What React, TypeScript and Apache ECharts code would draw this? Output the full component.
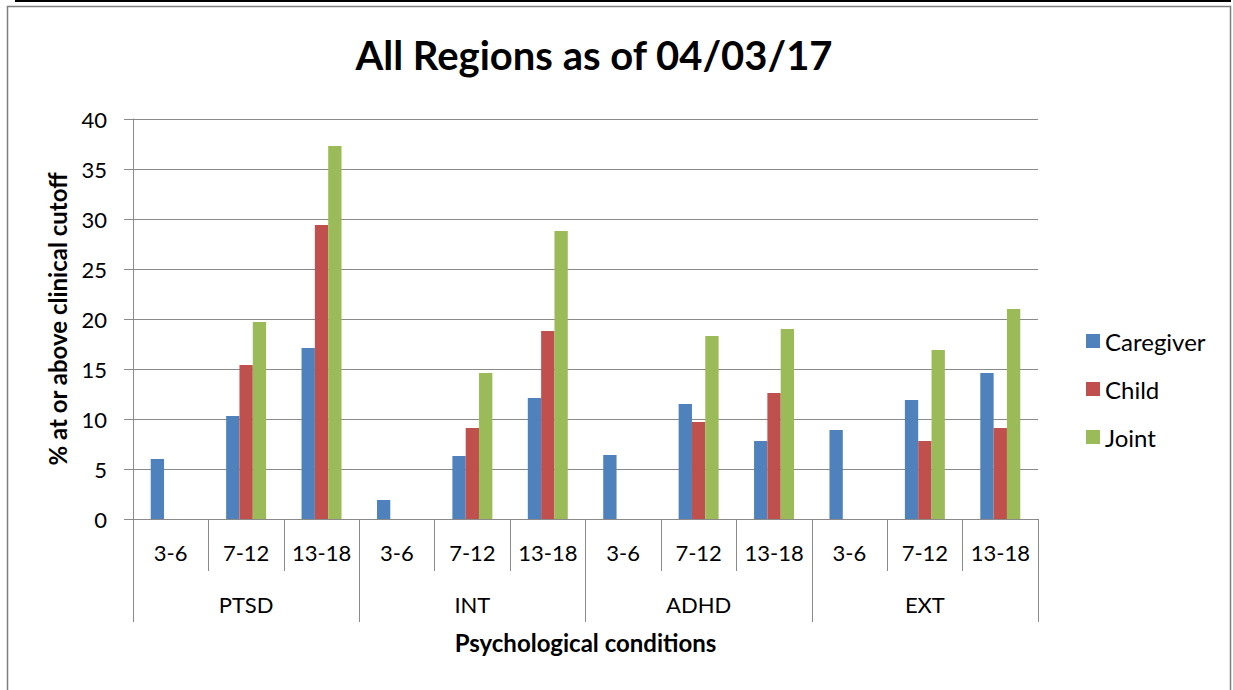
import React, { useEffect, useRef } from "react";
import * as echarts from "echarts";

const ageGroups = ["3-6", "7-12", "13-18", "3-6", "7-12", "13-18", "3-6", "7-12", "13-18", "3-6", "7-12", "13-18"];
const conditions = ["PTSD", "INT", "ADHD", "EXT"];
const seriesNames = ["Caregiver", "Child", "Joint"];
const caregiver = [6.0, 10.3, 17.1, 1.9, 6.3, 12.1, 6.4, 11.5, 7.8, 8.9, 11.9, 14.6];
const child = [null, 15.4, 29.4, null, 9.1, 18.8, null, 9.7, 12.6, null, 7.8, 9.1];
const joint = [null, 19.7, 37.3, null, 14.6, 28.8, null, 18.3, 19.0, null, 16.9, 21.0];
const colors = ["#4F81BD", "#C0504D", "#9BBB59"];

const FONT = "Lato, 'Open Sans', sans-serif";
const GRID_COLOR = "#8a8a8a";

export default function App() {
  const ref = useRef<HTMLDivElement>(null);
  useEffect(() => {
    if (!ref.current) return;
    const chart = echarts.init(ref.current, null, { renderer: "svg" });
    const values = [caregiver, child, joint];
    chart.setOption({
      animation: false,
      backgroundColor: "#ffffff",
      textStyle: { fontFamily: FONT },
      title: {
        text: "All Regions as of 04/03/17",
        left: 589,
        top: 30,
        textAlign: "center",
        textStyle: { fontFamily: FONT, fontSize: 40, fontWeight: "bold", color: "#000" },
      },
      graphic: [
        { type: "line", shape: { x1: 15, y1: 1, x2: 1231, y2: 1 }, style: { stroke: "#000", lineWidth: 2 } },
        { type: "rect", shape: { x: 7.5, y: 6.5, width: 1223, height: 700 }, style: { fill: "none", stroke: "#7f7f7f", lineWidth: 1.5 } },
      ],
      legend: {
        orient: "vertical",
        left: 1081,
        top: 324,
        itemWidth: 14,
        itemHeight: 14,
        itemGap: 24,
        icon: "rect",
        textStyle: { fontFamily: FONT, fontSize: 24, color: "#000", lineHeight: 24 },
        data: seriesNames,
      },
      grid: { left: 133, top: 119, right: 195, bottom: 171, containLabel: false },
      xAxis: [
        {
          type: "category",
          data: ageGroups,
          position: "bottom",
          axisLine: { show: true, lineStyle: { color: GRID_COLOR, width: 1 } },
          axisTick: { show: true, length: 52, alignWithLabel: false, lineStyle: { color: GRID_COLOR } },
          axisLabel: { fontFamily: FONT, fontSize: 22, color: "#000", margin: 22, interval: 0 },
        },
        {
          type: "category",
          data: conditions,
          position: "bottom",
          axisLine: { show: false },
          axisTick: { show: true, length: 103, alignWithLabel: false, lineStyle: { color: GRID_COLOR } },
          axisLabel: { fontFamily: FONT, fontSize: 22, color: "#000", margin: 74, interval: 0 },
          name: "Psychological conditions",
          nameLocation: "middle",
          nameGap: 111,
          nameTextStyle: { fontFamily: FONT, fontSize: 24, fontWeight: "bold", color: "#000" },
        },
      ],
      yAxis: {
        type: "value",
        min: 0,
        max: 40,
        interval: 5,
        axisLine: { show: true, lineStyle: { color: GRID_COLOR } },
        axisTick: { show: true, length: 9, lineStyle: { color: GRID_COLOR } },
        splitLine: { show: true, lineStyle: { color: GRID_COLOR, width: 1 } },
        axisLabel: { fontFamily: FONT, fontSize: 22, color: "#000", margin: 26 },
        name: "% at or above clinical cutoff",
        nameLocation: "middle",
        nameGap: 64,
        nameTextStyle: { fontFamily: FONT, fontSize: 24, fontWeight: "bold", color: "#000" },
      },
      series: seriesNames.map((name, i) => ({
        name,
        type: "bar",
        xAxisIndex: 0,
        data: values[i],
        barGap: "0%",
        barCategoryGap: "47%",
        itemStyle: { color: colors[i] },
      })),
    });
    return () => chart.dispose();
  }, []);
  return <div ref={ref} style={{ position: "fixed", left: 0, top: 0, width: 1233, height: 690 }} />;
}
